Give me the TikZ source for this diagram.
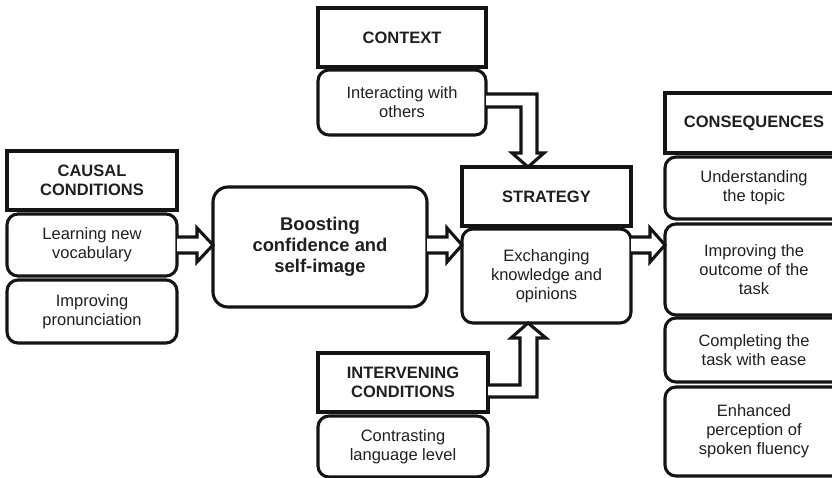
\documentclass[tikz,border=0pt]{standalone}
\usepackage{fontspec}
\setmainfont{Liberation Sans}
\usetikzlibrary{calc}
\begin{document}
\begin{tikzpicture}[x=1pt,y=-1pt,
  base/.style={draw=black!92, line width=3.1pt, outer sep=0pt, align=center, inner sep=2pt,
    font=\fontsize{16.5}{19}\selectfont, text=black!88},
  hbox/.style={base, font=\fontsize{16.5}{19}\selectfont\bfseries},
  rbox/.style={base, rounded corners=11pt},
  barrow/.style={draw=black!92, line width=3.1pt, fill=white, line join=miter}]
\useasboundingbox (0,0) rectangle (832,478);
\clip (0,0) rectangle (832,478);
% causal conditions
\node[hbox, minimum width=170, minimum height=59] (causH) at (92,180.5) {CAUSAL\\CONDITIONS};
\node[rbox, minimum width=170, minimum height=62] (lv) at (92,245) {Learning new\\vocabulary};
\node[rbox, minimum width=170, minimum height=63] (ip) at (92,311.5) {Improving\\pronunciation};
% boosting
\node[rbox, minimum width=214, minimum height=120, rounded corners=15pt,
  font=\fontsize{18.4}{21}\selectfont\bfseries] (boost) at (320,247) {Boosting\\confidence and\\self-image};
% context
\node[hbox, minimum width=168, minimum height=59] (ctxH) at (402,37.5) {CONTEXT};
\node[rbox, minimum width=168, minimum height=65] (iwo) at (402,102.5) {Interacting with\\others};
% strategy
\node[hbox, minimum width=169, minimum height=59] (strH) at (546.5,196.5) {STRATEGY};
\node[rbox, minimum width=169, minimum height=94] (ex) at (546.5,276) {Exchanging\\knowledge and\\opinions};
% intervening
\node[hbox, minimum width=170, minimum height=59] (intH) at (403,382.5) {INTERVENING\\CONDITIONS};
\node[rbox, minimum width=170, minimum height=61] (cl) at (403,446.5) {Contrasting\\language level};
% consequences
\node[hbox, minimum width=178, minimum height=60] (conH) at (754,123) {CONSEQUENCES};
\node[rbox, minimum width=178, minimum height=62] (ut) at (754,188) {Understanding\\the topic};
\node[rbox, minimum width=178, minimum height=91] (io) at (754,269.5) {Improving the\\outcome of the\\task};
\node[rbox, minimum width=178, minimum height=64] (ct) at (754,350) {Completing the\\task with ease};
\node[rbox, minimum width=178, minimum height=89] (ep) at (754,431.5) {Enhanced\\perception of\\spoken fluency};
% block arrows
\draw[barrow] (lv.east |- 0,237) -- (197,237) -- (197,228) -- (boost.west |- 0,245)
  -- (197,262) -- (197,253) -- (lv.east |- 0,253);
\draw[barrow] (boost.east |- 0,237) -- (447,237) -- (447,228) -- (ex.west |- 0,245)
  -- (447,262) -- (447,253) -- (boost.east |- 0,253);
\draw[barrow] (ex.east |- 0,237) -- (650,237) -- (650,228) -- (io.west |- 0,245)
  -- (650,262) -- (650,253) -- (ex.east |- 0,253);
\draw[barrow] (iwo.east |- 0,94) -- (537,94) -- (537,153) -- (544,153) -- (strH.north -| 528,0)
  -- (512,153) -- (521,153) -- (521,107) -- (iwo.east |- 0,107);
\draw[barrow] (intH.east |- 0,397) -- (537,397) -- (537,338) -- (546,338) -- (ex.south -| 528,0)
  -- (511,338) -- (520,338) -- (520,385) -- (intH.east |- 0,385);
\end{tikzpicture}
\end{document}
